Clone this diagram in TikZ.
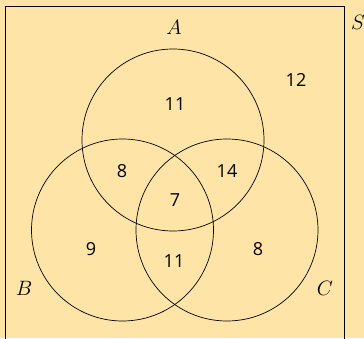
\documentclass[tikz,border=0pt]{standalone}
\usepackage{fontspec}
\newfontfamily\numfont{Open Sans}
\definecolor{bgc}{RGB}{255,228,168}
\begin{document}
\begin{tikzpicture}[x=1pt,y=-1pt,
  num/.style={font=\numfont\fontsize{18}{18}\selectfont, inner sep=0pt},
  lab/.style={font=\fontsize{20}{20}\selectfont, inner sep=0pt},
  setc/.style={draw=black, line width=0.7pt}]
\fill[bgc] (0,0) rectangle (364,338);
\useasboundingbox (0,0) rectangle (364,338);
\begin{scope}
\clip (0,0) rectangle (364,338);
\draw[line width=0.7pt] (5,6) rectangle (344,345);
\end{scope}
\coordinate (ca) at (173,140);
\coordinate (cb) at (122.5,230);
\coordinate (cc) at (227,230);
\draw[setc] (ca) circle[radius=91pt];
\draw[setc] (cb) circle[radius=91pt];
\draw[setc] (cc) circle[radius=91pt];
\node[lab] (lA) at (174,27) {$A$};
\node[lab] (lB) at (24,288) {$B$};
\node[lab] (lC) at (325,288) {$C$};
\node[lab] (lS) at (358,22) {$S$};
\node[num] (n12) at (296,80) {12};
\node[num] (nA) at (175,104) {11};
\node[num] (nAB) at (122,171) {8};
\node[num] (nAC) at (227,171) {14};
\node[num] (nABC) at (175,200) {7};
\node[num] (nB) at (91,249) {9};
\node[num] (nBC) at (174,261) {11};
\node[num] (nC) at (258,249) {8};
\end{tikzpicture}
\end{document}
